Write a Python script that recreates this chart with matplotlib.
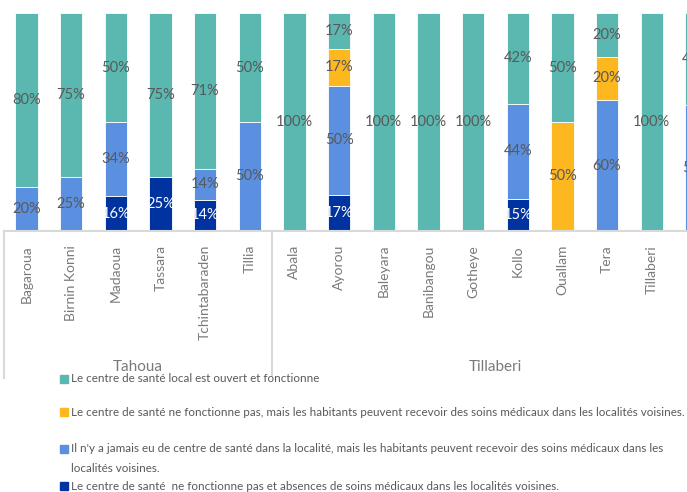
import numpy as np
import matplotlib.pyplot as plt
from matplotlib.patches import Rectangle

plt.rcParams['font.family'] = ['Lato', 'DejaVu Sans']

# Départements par région
regions = ['Tahoua', 'Tillaberi']
departements = ['Bagaroua', 'Birnin Konni', 'Madaoua', 'Tassara', 'Tchintabaraden', 'Tillia',
                'Abala', 'Ayorou', 'Baleyara', 'Banibangou', 'Gotheye', 'Kollo',
                'Ouallam', 'Tera', 'Tillaberi', 'Torodi']
region_taille = [6, 10]

# Pourcentages par situation (du bas vers le haut de la pile)
absent = [0, 0, 16, 25, 14.29, 0, 0, 16.67, 0, 0, 0, 14.6, 0, 0, 0, 0]
jamais = [20, 25, 34, 0, 14.29, 50, 0, 50, 0, 0, 0, 43.8, 0, 60, 0, 58]
voisin = [0, 0, 0, 0, 0, 0, 0, 16.67, 0, 0, 0, 0, 50, 20, 0, 0]
ouvert = [80, 75, 50, 75, 71.43, 50, 100, 16.67, 100, 100, 100, 41.6, 50, 20, 100, 42]

legende = ['Le centre de santé local est ouvert et fonctionne',
           'Le centre de santé ne fonctionne pas, mais les habitants peuvent recevoir des soins médicaux dans les localités voisines.',
           "Il n'y a jamais eu de centre de santé dans la localité, mais les habitants peuvent recevoir des soins médicaux dans les\nlocalités voisines.",
           'Le centre de santé  ne fonctionne pas et absences de soins médicaux dans les localités voisines.']

couleurs = {'ouvert': '#5BB8B0', 'voisin': '#FDB71F', 'jamais': '#5B8FE0', 'absent': '#0033A0'}
gris = '#595959'
gris_axe = '#7a7a7a'

fig = plt.figure(figsize=(6.87, 4.92), dpi=100)
ax = fig.add_axes([4 / 687, 261 / 492, 683 / 687, 218 / 492])

x = np.arange(len(departements))
series = [('absent', absent), ('jamais', jamais), ('voisin', voisin), ('ouvert', ouvert)]
bas = np.zeros(len(x))
for nom, vals in series:
    vals = np.array(vals, dtype=float)
    ax.bar(x, vals, 0.5, bottom=bas, color=couleurs[nom], edgecolor='white', linewidth=0.6)
    for xi, b, v in zip(x, bas, vals):
        if v > 0:
            ax.text(xi, b + v / 2, f'{v:.0f}%', ha='center', va='center', fontsize=10.5,
                    color='white' if nom == 'absent' else gris)
    bas += vals

ax.set_yticks([])
ax.set_xticks(x)
ax.set_xticklabels(departements, rotation=90, fontsize=10, color=gris_axe, va='top')
ax.tick_params(axis='x', length=0, pad=10)
for s in ['left', 'right', 'top']:
    ax.spines[s].set_visible(False)
ax.spines['bottom'].set_color('#d9d9d9')
ax.spines['bottom'].set_linewidth(1.5)

# Séparateurs et noms de régions
trans = ax.get_xaxis_transform()
debut = -0.5
ax.plot([debut, debut], [0, -0.675], transform=trans, color='#d9d9d9', lw=1.5, clip_on=False)
for reg, n in zip(regions, region_taille):
    fin = debut + n
    ax.plot([fin, fin], [0, -0.66], transform=trans, color='#d9d9d9', lw=1.5, clip_on=False)
    ax.text((debut + fin) / 2, -0.625, reg, transform=trans, ha='center', va='center',
            fontsize=11, color=gris_axe)
    debut = fin

ax.set_ylim(0, 100)
ax.set_xlim(-0.5, 14.79)

# Légende
lignes_y = [379, 412, 449, 486]
for nom, txt, yp in zip(['ouvert', 'voisin', 'jamais', 'absent'], legende, lignes_y):
    fig.add_artist(Rectangle((60 / 687, 1 - (yp + 4) / 492), 8 / 687, 8 / 492,
                             transform=fig.transFigure, color=couleurs[nom]))
    for k, ligne in enumerate(txt.split('\n')):
        fig.text(71 / 687, 1 - (yp + 19 * k) / 492, ligne, ha='left', va='center',
                 fontsize=8.4, color=gris)

fig.savefig('out.png', dpi=100)
